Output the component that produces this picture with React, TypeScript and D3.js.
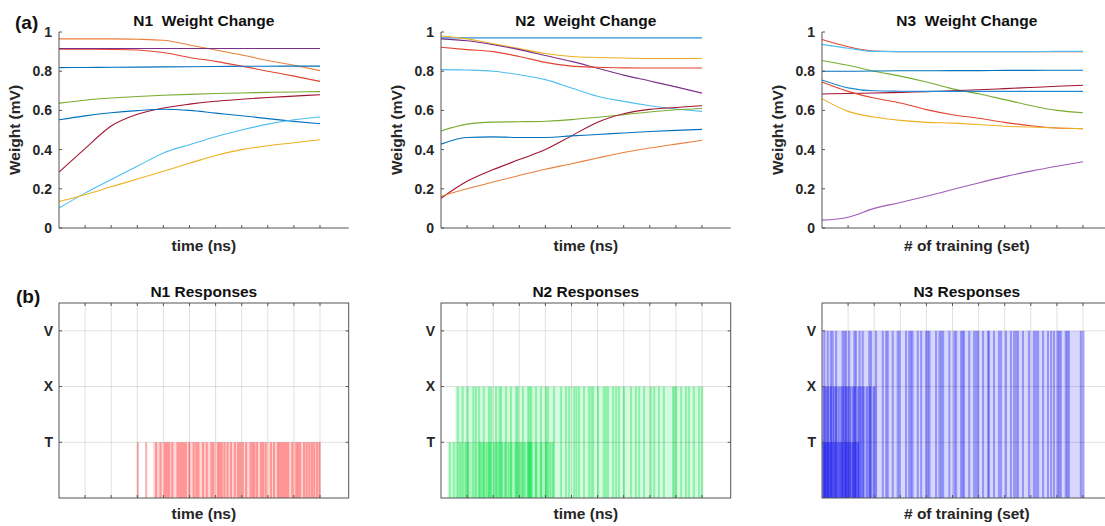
import React from 'react';
import * as d3 from 'd3';

const W = 1105;
const H = 526;
const FONT = '"Liberation Sans", Arial, Helvetica, sans-serif';

// sample positions (x units) for the weight traces
const steps = [0, 1, 2, 3, 4, 5, 6, 7, 8, 9, 10];
const weightTicks = [0, 0.2, 0.4, 0.6, 0.8, 1];
const levelNames = ['T', 'X', 'V'];
const topTitles = ['N1  Weight Change', 'N2  Weight Change', 'N3  Weight Change'];
const bottomTitles = ['N1 Responses', 'N2 Responses', 'N3 Responses'];
const xLabels = ['time (ns)', 'time (ns)', '# of training (set)'];

// N1 weights
const n1Orange = [0.965, 0.965, 0.965, 0.963, 0.958, 0.934, 0.908, 0.883, 0.855, 0.83, 0.803];
const n1Red = [0.912, 0.912, 0.911, 0.908, 0.895, 0.87, 0.85, 0.826, 0.8, 0.775, 0.748];
const n1Purple = [0.916, 0.916, 0.916, 0.916, 0.916, 0.916, 0.916, 0.916, 0.916, 0.916, 0.916];
const n1Blue = [0.818, 0.819, 0.82, 0.821, 0.822, 0.823, 0.824, 0.825, 0.825, 0.826, 0.826];
const n1Green = [0.637, 0.652, 0.663, 0.671, 0.677, 0.682, 0.686, 0.689, 0.692, 0.694, 0.696];
const n1Maroon = [0.285, 0.405, 0.52, 0.58, 0.612, 0.632, 0.647, 0.657, 0.666, 0.673, 0.68];
const n1Blue2 = [0.552, 0.572, 0.588, 0.599, 0.606, 0.6, 0.586, 0.573, 0.558, 0.544, 0.532];
const n1Cyan = [0.102, 0.178, 0.247, 0.315, 0.383, 0.425, 0.466, 0.5, 0.53, 0.552, 0.566];
const n1Yellow = [0.135, 0.17, 0.21, 0.25, 0.29, 0.33, 0.37, 0.4, 0.42, 0.435, 0.45];

// N2 weights
const n2Blue = [0.97, 0.97, 0.97, 0.97, 0.97, 0.97, 0.97, 0.97, 0.97, 0.97, 0.97];
const n2Yellow = [0.98, 0.965, 0.94, 0.915, 0.89, 0.875, 0.87, 0.867, 0.865, 0.865, 0.865];
const n2Purple = [0.965, 0.955, 0.935, 0.91, 0.88, 0.85, 0.815, 0.78, 0.75, 0.72, 0.688];
const n2Orange = [0.922, 0.91, 0.9, 0.875, 0.845, 0.826, 0.82, 0.817, 0.816, 0.816, 0.816];
const n2Cyan = [0.808, 0.806, 0.8, 0.782, 0.757, 0.714, 0.672, 0.646, 0.624, 0.607, 0.595];
const n2Green = [0.495, 0.53, 0.54, 0.542, 0.545, 0.553, 0.565, 0.578, 0.592, 0.603, 0.61];
const n2Maroon = [0.152, 0.238, 0.298, 0.349, 0.4, 0.47, 0.54, 0.583, 0.605, 0.615, 0.624];
const n2Blue2 = [0.428, 0.462, 0.465, 0.462, 0.462, 0.47, 0.477, 0.485, 0.492, 0.498, 0.503];
const n2Orange2 = [0.162, 0.2, 0.235, 0.268, 0.3, 0.328, 0.357, 0.385, 0.408, 0.428, 0.447];

// N3 weights
const n3Red = [0.962, 0.925, 0.903, 0.9, 0.9, 0.9, 0.9, 0.9, 0.9, 0.9, 0.9];
const n3Cyan = [0.937, 0.917, 0.901, 0.9, 0.9, 0.9, 0.9, 0.9, 0.9, 0.901, 0.901];
const n3Green = [0.855, 0.83, 0.8, 0.775, 0.745, 0.71, 0.685, 0.655, 0.625, 0.6, 0.588];
const n3Blue = [0.8, 0.8, 0.801, 0.802, 0.802, 0.803, 0.803, 0.804, 0.804, 0.805, 0.805];
const n3Maroon = [0.684, 0.686, 0.689, 0.692, 0.696, 0.7, 0.705, 0.711, 0.717, 0.723, 0.728];
const n3Blue2 = [0.755, 0.715, 0.7, 0.698, 0.697, 0.697, 0.697, 0.697, 0.697, 0.697, 0.697];
const n3Orange = [0.745, 0.697, 0.663, 0.638, 0.604, 0.578, 0.56, 0.539, 0.522, 0.51, 0.507];
const n3Yellow = [0.66, 0.595, 0.566, 0.549, 0.539, 0.535, 0.528, 0.519, 0.515, 0.51, 0.507];
const n3Purple = [0.04, 0.055, 0.1, 0.13, 0.162, 0.196, 0.23, 0.262, 0.29, 0.315, 0.338];

// response spikes (x units) per level: T=1, X=2, V=3
const n1T = [2.98, 3.3, 3.68, 3.85, 4.02, 4.1, 4.18, 4.3, 4.5, 4.58, 4.66, 4.74, 4.82, 4.95, 5.12, 5.22,
  5.3, 5.48, 5.62, 5.8, 5.88, 6.05, 6.12, 6.2, 6.3, 6.42, 6.55, 6.7, 6.82, 6.9, 7.0, 7.13, 7.3, 7.38,
  7.45, 7.55, 7.7, 7.78, 7.88, 8.08, 8.2, 8.35, 8.42, 8.5, 8.58, 8.66, 8.74, 8.9, 9.05, 9.12, 9.2,
  9.35, 9.45, 9.55, 9.65, 9.74, 9.85, 9.95];
const n2T = [0.3, 0.45, 0.7, 0.9, 1.0, 1.45, 1.52, 1.6, 1.7, 1.78, 1.85, 2.0, 2.1, 2.2, 2.3, 2.42, 2.55,
  2.65, 2.82, 2.9, 3.0, 3.08, 3.18, 3.3, 3.34, 3.38, 3.42, 3.6, 3.8, 4.0, 4.15, 4.25];
const n2X = [0.6, 0.79, 0.98, 1.2, 1.3, 1.42, 1.6, 1.8, 1.88, 2.07, 2.2, 2.26, 2.45, 2.64, 2.84, 2.9,
  3.1, 3.3, 3.36, 3.42, 3.6, 3.79, 3.98, 4.06, 4.29, 4.56, 4.75, 4.87, 5.06, 5.15, 5.25, 5.44, 5.63,
  5.72, 5.79, 5.98, 6.2, 6.28, 6.36, 6.55, 6.67, 6.78, 6.97, 7.24, 7.43, 7.55, 7.74, 8.0, 8.13, 8.31,
  8.5, 8.85, 8.9, 8.97, 9.16, 9.35, 9.46, 9.65, 9.85, 9.97];
const n3T = [0.02, 0.08, 0.14, 0.2, 0.26, 0.35, 0.45, 0.55, 0.65, 0.72, 0.85, 0.95, 1.05, 1.15, 1.25, 1.35];
const n3X = [0.05, 0.12, 0.2, 0.3, 0.42, 0.5, 0.6, 0.7, 0.78, 0.88, 0.95, 1.05, 1.15, 1.22, 1.35, 1.45,
  1.55, 1.68, 1.8, 1.95];
const n3V = [0.05, 0.18, 0.3, 0.37, 0.5, 0.75, 0.82, 0.88, 1.0, 1.2, 1.26, 1.4, 1.52, 1.77, 1.84, 2.03,
  2.29, 2.42, 2.48, 2.67, 2.86, 2.93, 3.18, 3.3, 3.37, 3.43, 3.63, 3.76, 3.95, 4.02, 4.08, 4.33, 4.46,
  4.53, 4.6, 4.84, 5.03, 5.1, 5.29, 5.35, 5.4, 5.6, 5.79, 5.87, 5.94, 6.13, 6.32, 6.36, 6.55, 6.74,
  6.82, 7.01, 7.2, 7.32, 7.4, 7.47, 7.66, 7.89, 8.08, 8.16, 8.24, 8.43, 8.62, 8.74, 8.85, 8.99, 9.05,
  9.11, 9.3, 9.36, 9.42, 9.88, 9.98];

// light background span of each response train [start, end] in x units
const n1Spans = [[3.6, 10.0]];
const n2Spans = [[0.25, 4.3], [0.55, 10.0]];
const n3Spans = [[0, 1.42], [0, 2.1], [0, 10.0]];

const pal = {
  blue: '#0072BD', orange: '#E9803A', red: '#E3452F', yellow: '#EDB120', purple: '#7E2F8E',
  green: '#77AC30', cyan: '#4DBEEE', maroon: '#A2142F',
};

const weightPanels = [
  [
    [n1Orange, pal.orange], [n1Red, pal.red], [n1Purple, pal.purple], [n1Blue, pal.blue],
    [n1Green, pal.green], [n1Maroon, pal.maroon], [n1Blue2, pal.blue], [n1Cyan, pal.cyan],
    [n1Yellow, pal.yellow],
  ],
  [
    [n2Blue, '#2F8FD8'], [n2Yellow, pal.yellow], [n2Purple, pal.purple], [n2Orange, pal.red],
    [n2Cyan, pal.cyan], [n2Green, pal.green], [n2Maroon, pal.maroon], [n2Blue2, pal.blue],
    [n2Orange2, pal.orange],
  ],
  [
    [n3Red, pal.red], [n3Cyan, pal.cyan], [n3Green, pal.green], [n3Blue, pal.blue],
    [n3Maroon, pal.maroon], [n3Blue2, '#1F8AD0'], [n3Orange, pal.red], [n3Yellow, pal.yellow],
    [n3Purple, '#A05CB8'],
  ],
];

const responsePanels = [
  { trains: [[n1T, 1]], spans: n1Spans, color: '#FF1010' },
  { trains: [[n2T, 1], [n2X, 2]], spans: n2Spans, color: '#00E040' },
  { trains: [[n3T, 1], [n3X, 2], [n3V, 3]], spans: n3Spans, color: '#1010F0' },
];

const panelX = [59, 441, 822];
const unitMax = 11.1;
const axisW = 289.7;
const gridUnits = [1, 2, 3, 4, 5, 6, 7, 8, 9, 10];

const textStyle = { fontFamily: FONT, fontWeight: 700, fill: '#262626' };
const labelSize = 15.5;

function App() {
  const yTop = d3.scaleLinear().domain([0, 1]).range([228, 32]);
  const yBot = d3.scaleLinear().domain([0, 3.5]).range([498, 303]);
  const fmt = (d) => (d === 0 || d === 1 ? String(d) : d.toFixed(1));

  return (
    <svg width={W} height={H} style={{ position: 'absolute', left: 0, top: 0, background: '#fff' }}>
      <text x={15} y={29} fontSize={19} {...textStyle} fill="#111">(a)</text>
      <text x={16} y={303} fontSize={19} {...textStyle} fill="#111">(b)</text>

      {panelX.map((x0, p) => {
        const x = d3.scaleLinear().domain([0, unitMax]).range([x0, x0 + axisW]);
        const line = d3.line().x((d, i) => x(steps[i])).y((d) => yTop(d)).curve(d3.curveMonotoneX);
        const cx = x0 + axisW / 2;
        return (
          <g key={'top' + p}>
            {weightPanels[p].map(([vals, col], i) => (
              <path key={i} d={line(vals)} fill="none" stroke={col} strokeWidth={1.1} />
            ))}
            <line x1={x0} x2={x0} y1={yTop(1)} y2={yTop(0)} stroke="#555" strokeWidth={1} />
            <line x1={x0} x2={x0 + axisW} y1={yTop(0)} y2={yTop(0)} stroke="#555" strokeWidth={1} />
            {gridUnits.map((u) => (
              <line key={u} x1={x(u)} x2={x(u)} y1={yTop(0)} y2={yTop(0) - 3} stroke="#555" />
            ))}
            {weightTicks.map((t) => (
              <g key={t}>
                <line x1={x0} x2={x0 + 3} y1={yTop(t)} y2={yTop(t)} stroke="#555" />
                <text x={x0 - 7} y={yTop(t)} dy="0.35em" textAnchor="end" fontSize={14} {...textStyle}>
                  {fmt(t)}
                </text>
              </g>
            ))}
            <text x={cx} y={26} textAnchor="middle" fontSize={labelSize} {...textStyle} fill="#111"
              style={{ whiteSpace: 'pre' }}>{topTitles[p]}</text>
            <text x={cx} y={251} textAnchor="middle" fontSize={labelSize} {...textStyle}>{xLabels[p]}</text>
            <text transform={`translate(${x0 - 39},130) rotate(-90)`} textAnchor="middle" fontSize={labelSize} {...textStyle}>
              Weight (mV)
            </text>
          </g>
        );
      })}

      {panelX.map((x0, p) => {
        const x = d3.scaleLinear().domain([0, unitMax]).range([x0, x0 + axisW]);
        const { trains, spans, color } = responsePanels[p];
        const cx = x0 + axisW / 2;
        const bw = x(0.08) - x(0);
        return (
          <g key={'bot' + p}>
            {spans.map(([a, b], i) => (
              <rect key={'s' + i} x={x(a)} width={x(b) - x(a)} y={yBot(trains[i][1])}
                height={yBot(0) - yBot(trains[i][1])} fill={color} fillOpacity={0.17} />
            ))}
            {trains.map(([times, lvl], j) =>
              times.map((t, i) => (
                <rect key={j + '-' + i} x={x(t)} width={bw} y={yBot(lvl)} height={yBot(0) - yBot(lvl)}
                  fill={color} fillOpacity={0.33} />
              ))
            )}
            {gridUnits.map((u) => (
              <line key={'g' + u} x1={x(u)} x2={x(u)} y1={yBot(3.5)} y2={yBot(0)} stroke="#000" strokeOpacity={0.12} />
            ))}
            {[1, 2, 3].map((l) => (
              <line key={'h' + l} x1={x0} x2={x0 + axisW} y1={yBot(l)} y2={yBot(l)} stroke="#000" strokeOpacity={0.12} />
            ))}
            {gridUnits.map((u) => (
              <g key={'t' + u}>
                <line x1={x(u)} x2={x(u)} y1={yBot(0)} y2={yBot(0) - 3} stroke="#555" />
                <line x1={x(u)} x2={x(u)} y1={yBot(3.5)} y2={yBot(3.5) + 3} stroke="#555" />
              </g>
            ))}
            {[1, 2, 3].map((l) => (
              <g key={'y' + l}>
                <line x1={x0} x2={x0 + 3} y1={yBot(l)} y2={yBot(l)} stroke="#555" />
                <line x1={x0 + axisW} x2={x0 + axisW - 3} y1={yBot(l)} y2={yBot(l)} stroke="#555" />
                <text x={x0 - 6} y={yBot(l)} dy="0.35em" textAnchor="end" fontSize={14} {...textStyle}>
                  {levelNames[l - 1]}
                </text>
              </g>
            ))}
            <rect x={x0} y={yBot(3.5)} width={axisW} height={yBot(0) - yBot(3.5)} fill="none" stroke="#555" strokeWidth={1} />
            <text x={cx} y={297} textAnchor="middle" fontSize={labelSize} {...textStyle} fill="#111">{bottomTitles[p]}</text>
            <text x={cx} y={519} textAnchor="middle" fontSize={labelSize} {...textStyle}>{xLabels[p]}</text>
          </g>
        );
      })}
    </svg>
  );
}

export default App;
